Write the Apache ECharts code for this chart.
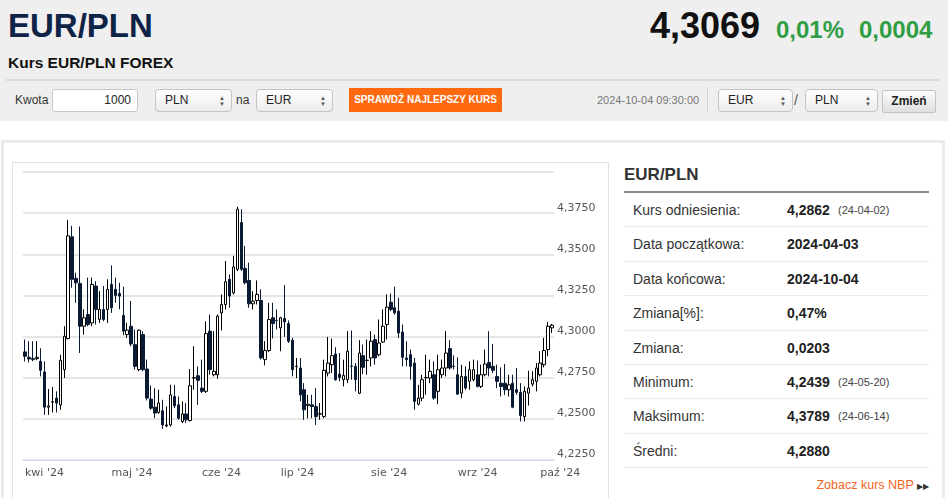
<!DOCTYPE html>
<html>
<head>
<meta charset="utf-8">
<script src="https://cdn.jsdelivr.net/npm/echarts/dist/echarts.min.js"></script>
<style>
body{margin:0;width:948px;height:498px;overflow:hidden;background:#fff;position:relative;font-family:'Liberation Sans',Arial,sans-serif;color:#222}
.a{position:absolute;white-space:nowrap}
.sel{position:absolute;height:21px;border:1px solid #c4c4c4;border-radius:4px;background:linear-gradient(#fff,#ececec);font-size:12px;line-height:21px;padding-left:9px;box-sizing:content-box}
.sel i{position:absolute;right:6px;top:5px;font-style:normal;font-size:6px;line-height:6px;color:#555}
.row{position:absolute;left:624px;width:305px;height:34.4px;border-bottom:1px solid #ebebeb;box-sizing:border-box;font-size:14px;line-height:34px}
.row span{position:absolute}
.row .l{left:9px;color:#333}
.row .v{left:163px;font-weight:bold;color:#222}
.row .d{left:214px;font-size:11px;color:#444}
</style>
</head>
<body>

<div class="a" style="left:0;top:0;width:948px;height:121px;background:#efefef"></div>
<div class="a" style="left:8px;top:6px;font-size:33px;line-height:40px;font-weight:bold;color:#0f2347">EUR/PLN</div>
<div class="a" style="left:8px;top:53px;font-size:15.5px;line-height:20px;font-weight:bold;color:#111">Kurs EUR/PLN FOREX</div>
<div class="a" style="right:188px;top:4px;font-size:36px;line-height:44px;font-weight:bold;color:#111">4,3069</div>
<div class="a" style="left:776px;top:15px;font-size:24px;line-height:30px;font-weight:bold;color:#2f9e44">0,01%</div>
<div class="a" style="left:859px;top:15px;font-size:24px;line-height:30px;font-weight:bold;color:#2f9e44">0,0004</div>
<div class="a" style="left:6px;top:79px;width:934px;height:2px;background:#dcdcdc"></div>

<div class="a" style="left:15px;top:93px;font-size:12px;line-height:14px;color:#333">Kwota</div>
<div class="a" style="left:52px;top:89px;width:78px;height:21px;border:1px solid #c8c8c8;border-radius:3px;background:#fff;font-size:12px;line-height:21px;text-align:right;padding-right:6px">1000</div>
<div class="sel" style="left:155px;top:89px;width:66px">PLN<i>▲<br>▼</i></div>
<div class="a" style="left:236px;top:93px;font-size:12px;line-height:14px;color:#333">na</div>
<div class="sel" style="left:256px;top:89px;width:66px">EUR<i>▲<br>▼</i></div>
<div class="a" style="left:349px;top:88px;width:153px;height:24px;background:#ff6a10;color:#fff;font-size:10px;font-weight:bold;line-height:24px;text-align:center">SPRAWDŹ NAJLEPSZY KURS</div>
<div class="a" style="left:597px;top:94px;font-size:11px;line-height:13px;color:#777">2024-10-04 09:30:00</div>
<div class="a" style="left:707px;top:87px;width:1px;height:26px;background:#d6d6d6"></div>
<div class="sel" style="left:718px;top:89px;width:64px">EUR<i>▲<br>▼</i></div>
<div class="a" style="left:794px;top:92px;font-size:14px;line-height:16px;color:#555">/</div>
<div class="sel" style="left:805px;top:89px;width:62px">PLN<i>▲<br>▼</i></div>
<div class="a" style="left:882px;top:90px;width:52px;height:21px;border:1px solid #c4c4c4;border-radius:2px;background:linear-gradient(#fdfdfd,#dedede);font-size:12px;font-weight:bold;line-height:21px;text-align:center">Zmień</div>

<div class="a" style="left:1px;top:140px;width:938px;height:380px;border:3px solid #ececec;border-bottom:none"></div>
<div class="a" style="left:12px;top:162px;width:595px;height:345px;border:1px solid #e2e2e2"></div>
<div id="main" class="a" style="left:13px;top:163px;width:595px;height:335px"></div>

<div class="a" style="left:624px;top:165px;font-size:17px;line-height:20px;font-weight:bold;color:#333">EUR/PLN</div>
<div class="a" style="left:624px;top:191px;width:305px;height:2px;background:#8a8a8a"></div>
<div class="row" style="top:193px"><span class="l">Kurs odniesienia:</span><span class="v">4,2862</span><span class="d">(24-04-02)</span></div>
<div class="row" style="top:227.4px"><span class="l">Data początkowa:</span><span class="v">2024-04-03</span></div>
<div class="row" style="top:261.8px"><span class="l">Data końcowa:</span><span class="v">2024-10-04</span></div>
<div class="row" style="top:296.2px"><span class="l">Zmiana[%]:</span><span class="v">0,47%</span></div>
<div class="row" style="top:330.6px"><span class="l">Zmiana:</span><span class="v">0,0203</span></div>
<div class="row" style="top:365px"><span class="l">Minimum:</span><span class="v">4,2439</span><span class="d">(24-05-20)</span></div>
<div class="row" style="top:399.4px"><span class="l">Maksimum:</span><span class="v">4,3789</span><span class="d">(24-06-14)</span></div>
<div class="row" style="top:433.8px"><span class="l">Średni:</span><span class="v">4,2880</span></div>
<div class="a" style="right:19px;top:477px;font-size:12.5px;line-height:16px;color:#f26522">Zobacz kurs NBP <span style="font-size:8px;color:#333">▶▶</span></div>

<script>
// EUR/PLN, dzienne świece od 2024-04-01 do 2024-10-04
var opens = [
  4.2907, 4.2874, 4.2866, 4.2866, 4.2850, 4.2785, 4.2571, 4.2602, 4.2626, 4.2585,
  4.2799, 4.2988, 4.3606, 4.3354, 4.3323, 4.3063, 4.3134, 4.3083, 4.3307, 4.3104,
  4.3165, 4.3165, 4.3317, 4.3287, 4.3262, 4.3128, 4.3012, 4.3063, 4.2951, 4.2799,
  4.3012, 4.2803, 4.2620, 4.2571, 4.2539, 4.2549, 4.2457, 4.2463, 4.2636, 4.2585,
  4.2484, 4.2530, 4.2490, 4.2748, 4.2762, 4.2687, 4.2667, 4.3033, 4.2768, 4.2768,
  4.3144, 4.3195, 4.3348, 4.3266, 4.3409, 4.3693, 4.3415, 4.3341, 4.3199, 4.3219,
  4.3219, 4.2860, 4.2915, 4.3114, 4.3098, 4.3053, 4.3110, 4.3079, 4.2978, 4.2817,
  4.2809, 4.2677, 4.2581, 4.2585, 4.2575, 4.2529, 4.2514, 4.2778, 4.2829, 4.2894,
  4.2772, 4.2738, 4.2738, 4.2821, 4.2819, 4.2656, 4.2884, 4.2855, 4.2870, 4.2982,
  4.2890, 4.2967, 4.3073, 4.3209, 4.3175, 4.3154, 4.3028, 4.2870, 4.2890, 4.2839,
  4.2589, 4.2626, 4.2750, 4.2748, 4.2768, 4.2667, 4.2768, 4.2809, 4.2927, 4.2820,
  4.2768, 4.2656, 4.2758, 4.2728, 4.2738, 4.2768, 4.2697, 4.2768, 4.2843, 4.2819,
  4.2758, 4.2717, 4.2717, 4.2677, 4.2717, 4.2677, 4.2661, 4.2514, 4.2656, 4.2711,
  4.2728, 4.2768, 4.2829, 4.2921, 4.3053
];
var closes = [
  4.2880, 4.2864, 4.2860, 4.2874, 4.2795, 4.2571, 4.2579, 4.2604, 4.2596, 4.2856,
  4.3002, 4.3612, 4.3348, 4.3327, 4.3063, 4.3114, 4.3073, 4.3317, 4.3165, 4.3165,
  4.3104, 4.3287, 4.3175, 4.3250, 4.3246, 4.3033, 4.3039, 4.2955, 4.2819, 4.3039,
  4.2799, 4.2626, 4.2565, 4.2535, 4.2596, 4.2463, 4.2463, 4.2646, 4.2579, 4.2504,
  4.2530, 4.2494, 4.2701, 4.2750, 4.2734, 4.2667, 4.3018, 4.2799, 4.2789, 4.3124,
  4.3195, 4.3333, 4.3246, 4.3423, 4.3774, 4.3409, 4.3327, 4.3199, 4.3215, 4.3256,
  4.2870, 4.2915, 4.3104, 4.3079, 4.3097, 4.3114, 4.3089, 4.2972, 4.2799, 4.2820,
  4.2646, 4.2555, 4.2589, 4.2575, 4.2514, 4.2531, 4.2795, 4.2839, 4.2884, 4.2738,
  4.2752, 4.2764, 4.2911, 4.2819, 4.2738, 4.2900, 4.2813, 4.2856, 4.2972, 4.2870,
  4.2961, 4.3063, 4.3179, 4.3165, 4.3144, 4.3022, 4.2874, 4.2860, 4.2819, 4.2606,
  4.2626, 4.2738, 4.2752, 4.2789, 4.2626, 4.2799, 4.2809, 4.2900, 4.2809, 4.2818,
  4.2650, 4.2758, 4.2687, 4.2799, 4.2799, 4.2697, 4.2768, 4.2833, 4.2809, 4.2795,
  4.2728, 4.2697, 4.2677, 4.2707, 4.2571, 4.2661, 4.2520, 4.2667, 4.2687, 4.2738,
  4.2809, 4.2839, 4.2915, 4.3063, 4.3069
];
var lows = [
  4.2848, 4.2843, 4.2850, 4.2856, 4.2758, 4.2524, 4.2524, 4.2539, 4.2539, 4.2555,
  4.2748, 4.2982, 4.3297, 4.3205, 4.2900, 4.3012, 4.3063, 4.3063, 4.3073, 4.3083,
  4.3093, 4.3083, 4.3144, 4.3205, 4.3165, 4.3008, 4.2992, 4.2941, 4.2799, 4.2789,
  4.2789, 4.2612, 4.2555, 4.2504, 4.2530, 4.2439, 4.2449, 4.2453, 4.2565, 4.2494,
  4.2474, 4.2474, 4.2484, 4.2677, 4.2585, 4.2657, 4.2657, 4.2768, 4.2758, 4.2744,
  4.3037, 4.3165, 4.3175, 4.3256, 4.3398, 4.3398, 4.3317, 4.3175, 4.3165, 4.3195,
  4.2860, 4.2825, 4.2907, 4.2988, 4.3043, 4.2911, 4.2998, 4.2961, 4.2758, 4.2748,
  4.2606, 4.2494, 4.2504, 4.2504, 4.2463, 4.2494, 4.2504, 4.2758, 4.2778, 4.2732,
  4.2728, 4.2697, 4.2717, 4.2738, 4.2667, 4.2650, 4.2772, 4.2768, 4.2819, 4.2829,
  4.2880, 4.2961, 4.2982, 4.3154, 4.3134, 4.2992, 4.2819, 4.2819, 4.2738, 4.2555,
  4.2581, 4.2606, 4.2646, 4.2717, 4.2616, 4.2589, 4.2748, 4.2758, 4.2799, 4.2799,
  4.2646, 4.2626, 4.2677, 4.2677, 4.2728, 4.2691, 4.2687, 4.2758, 4.2758, 4.2778,
  4.2687, 4.2636, 4.2646, 4.2636, 4.2565, 4.2646, 4.2484, 4.2484, 4.2581, 4.2697,
  4.2667, 4.2758, 4.2813, 4.2880, 4.3022
];
var highs = [
  4.2982, 4.2972, 4.2972, 4.2972, 4.2929, 4.2850, 4.2681, 4.2693, 4.2667, 4.2890,
  4.3063, 4.3709, 4.3673, 4.3388, 4.3669, 4.3165, 4.3358, 4.3358, 4.3337, 4.3276,
  4.3307, 4.3348, 4.3433, 4.3358, 4.3327, 4.3303, 4.3083, 4.3217, 4.3043, 4.3043,
  4.3033, 4.2860, 4.2703, 4.2687, 4.2677, 4.2616, 4.2575, 4.2707, 4.2707, 4.2636,
  4.2606, 4.2596, 4.2803, 4.2941, 4.2819, 4.2860, 4.3093, 4.3134, 4.3033, 4.3134,
  4.3256, 4.3459, 4.3378, 4.3490, 4.3789, 4.3774, 4.3551, 4.3449, 4.3276, 4.3341,
  4.3287, 4.2972, 4.3205, 4.3205, 4.3165, 4.3120, 4.3313, 4.3098, 4.2992, 4.2870,
  4.2870, 4.2717, 4.2646, 4.2646, 4.2687, 4.2596, 4.2860, 4.2998, 4.2988, 4.2935,
  4.2900, 4.2860, 4.3033, 4.3037, 4.2839, 4.2978, 4.2951, 4.2982, 4.3033, 4.3012,
  4.3104, 4.3165, 4.3256, 4.3262, 4.3303, 4.3236, 4.3073, 4.2972, 4.2921, 4.2870,
  4.2707, 4.2768, 4.2890, 4.2860, 4.2850, 4.2890, 4.2860, 4.3033, 4.2978, 4.2886,
  4.2874, 4.2829, 4.2819, 4.2850, 4.2860, 4.2854, 4.2829, 4.2921, 4.3033, 4.2955,
  4.2829, 4.2813, 4.2833, 4.2768, 4.2768, 4.2809, 4.2717, 4.2697, 4.2793, 4.2789,
  4.2839, 4.2911, 4.2992, 4.3089, 4.3077
];
var monthNames = ['sty', 'lut', 'mar', 'kwi', 'maj', 'cze', 'lip', 'sie', 'wrz', 'paź', 'lis', 'gru'];
var yTicks = {min: 4.225, max: 4.4, step: 0.025};

// dni robocze od 1 kwietnia (kategorie osi X)
var days = [];
var d = new Date(Date.UTC(2024, 3, 1));
while (days.length < opens.length) {
    var wd = d.getUTCDay();
    if (wd != 0 && wd != 6) days.push(d.toISOString().slice(0, 10));
    d.setUTCDate(d.getUTCDate() + 1);
}
function isMonthStart(i) {
    return i == 0 || days[i].slice(5, 7) != days[i - 1].slice(5, 7);
}

var candles = [];
for (var i = 0; i < opens.length; i++) {
    candles.push([opens[i], closes[i], lows[i], highs[i]]);
}

var myChart = echarts.init(document.getElementById('main'));
myChart.setOption({
    animation: false,
    grid: {left: 10, right: 54, top: 9, bottom: 38},
    xAxis: {
        type: 'category',
        data: days,
        boundaryGap: true,
        axisLine: {lineStyle: {color: '#ccd6eb', width: 1}},
        axisTick: {
            alignWithLabel: true,
            length: 8,
            interval: function (i) { return isMonthStart(i); },
            lineStyle: {color: '#ccd6eb'}
        },
        axisLabel: {
            interval: function (i) { return isMonthStart(i); },
            formatter: function (v) {
                return monthNames[parseInt(v.slice(5, 7), 10) - 1] + " '" + v.slice(2, 4);
            },
            align: 'left',
            margin: 8,
            color: '#555',
            fontSize: 11,
            fontFamily: 'DejaVu Sans'
        },
        splitLine: {show: false}
    },
    yAxis: {
        type: 'value',
        position: 'right',
        min: yTicks.min,
        max: yTicks.max,
        interval: yTicks.step,
        axisLine: {show: false},
        axisTick: {show: false},
        axisLabel: {
            margin: 3,
            verticalAlign: 'bottom',
            color: '#555',
            fontSize: 11,
            fontFamily: 'DejaVu Sans',
            formatter: function (v) {
                if (v > 4.39) return '';
                return v.toFixed(4).replace('.', ',');
            }
        },
        splitLine: {lineStyle: {color: '#dedede', width: 1.5}}
    },
    series: [{
        type: 'candlestick',
        data: candles,
        barWidth: 3,
        itemStyle: {
            color: '#ffffff',
            color0: '#0b1a33',
            borderColor: '#000000',
            borderColor0: '#0b1a33',
            borderWidth: 1
        }
    }]
});
</script>
</body>
</html>
